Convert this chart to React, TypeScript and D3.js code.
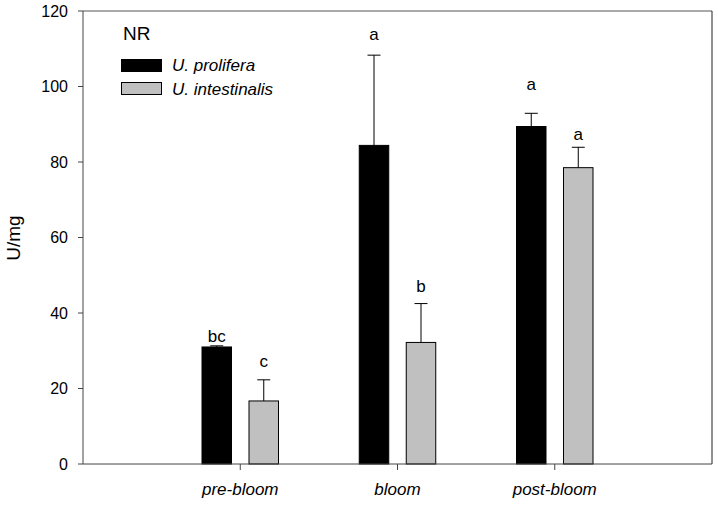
import React from "react";
import * as d3 from "d3";

const categories = ["pre-bloom", "bloom", "post-bloom"];
const seriesNames = ["U. prolifera", "U. intestinalis"];
const proliferaMean = [31.0, 84.4, 89.4];
const proliferaErr = [0.3, 23.9, 3.5];
const intestinalisMean = [16.7, 32.2, 78.5];
const intestinalisErr = [5.6, 10.3, 5.4];
const proliferaLetters = ["bc", "a", "a"];
const intestinalisLetters = ["c", "b", "a"];
const proliferaLetterY = [32.4, 112.3, 99.1];
const intestinalisLetterY = [25.6, 45.6, 85.8];
const yTicks = [0, 20, 40, 60, 80, 100, 120];

const W = 718;
const H = 505;
const left = 83;
const right = 712;
const top = 11;
const bottom = 464;

export default function App() {
  const x = d3.scaleLinear().domain([0, categories.length + 1]).range([left, right]);
  const y = d3.scaleLinear().domain([0, 120]).range([bottom, top]);
  const barW = 29.5;
  const off = 23.5;
  const font = "Arial, 'Liberation Sans', sans-serif";
  const series = [
    { mean: proliferaMean, err: proliferaErr, letters: proliferaLetters, ly: proliferaLetterY, fill: "#000000", dx: -off },
    { mean: intestinalisMean, err: intestinalisErr, letters: intestinalisLetters, ly: intestinalisLetterY, fill: "#c0c0c0", dx: off },
  ];
  return (
    <svg width={W} height={H} style={{ position: "absolute", left: 0, top: 0, background: "#fff" }} fontFamily={font}>
      <rect x={0} y={0} width={W} height={H} fill="#fff" />
      {series.map((s, si) =>
        categories.map((c, i) => {
          const cx = x(i + 1) + s.dx;
          const yt = y(s.mean[i]);
          const ye = y(s.mean[i] + s.err[i]);
          return (
            <g key={`${si}-${i}`}>
              <line x1={cx} x2={cx} y1={yt} y2={ye} stroke="#000" strokeWidth={1} />
              <line x1={cx - 6.5} x2={cx + 6.5} y1={ye} y2={ye} stroke="#000" strokeWidth={1} />
              <rect x={cx - barW / 2} y={yt} width={barW} height={bottom - yt} fill={s.fill} stroke="#000" strokeWidth={1} />
              <text x={cx} y={y(s.ly[i])} fontSize={17} textAnchor="middle" fill="#000">{s.letters[i]}</text>
            </g>
          );
        })
      )}
      {/* frame */}
      <line x1={left} x2={right} y1={top} y2={top} stroke="#555" strokeWidth={1} />
      <line x1={right} x2={right} y1={top} y2={bottom} stroke="#222" strokeWidth={1} />
      <line x1={left} x2={left} y1={top} y2={bottom} stroke="#444" strokeWidth={1} />
      <line x1={left} x2={right} y1={bottom} y2={bottom} stroke="#444" strokeWidth={1} />
      {/* y ticks */}
      {yTicks.map((t) => (
        <g key={t}>
          <line x1={left - 5} x2={left} y1={y(t)} y2={y(t)} stroke="#444" strokeWidth={1} />
          <text x={68} y={y(t)} dy="0.35em" fontSize={16} textAnchor="end" fill="#000">{t}</text>
        </g>
      ))}
      {/* x ticks */}
      {categories.map((c, i) => (
        <g key={c}>
          <line x1={x(i + 1)} x2={x(i + 1)} y1={bottom} y2={bottom + 6} stroke="#444" strokeWidth={1} />
          <text x={x(i + 1)} y={494.5} fontSize={17} fontStyle="italic" textAnchor="middle" fill="#000">{c}</text>
        </g>
      ))}
      <text transform={`translate(20, 238) rotate(-90)`} fontSize={19} textAnchor="middle" fill="#000">U/mg</text>
      {/* legend */}
      <text x={123} y={40} fontSize={19} fill="#000">NR</text>
      <rect x={121.5} y={59.5} width={40} height={12} fill="#000" stroke="#000" strokeWidth={1} />
      <rect x={121.5} y={82.5} width={40} height={12} fill="#c0c0c0" stroke="#000" strokeWidth={1} />
      <text x={172} y={71} fontSize={17} fontStyle="italic" fill="#000">{seriesNames[0]}</text>
      <text x={172} y={94.5} fontSize={17} fontStyle="italic" fill="#000">{seriesNames[1]}</text>
    </svg>
  );
}
